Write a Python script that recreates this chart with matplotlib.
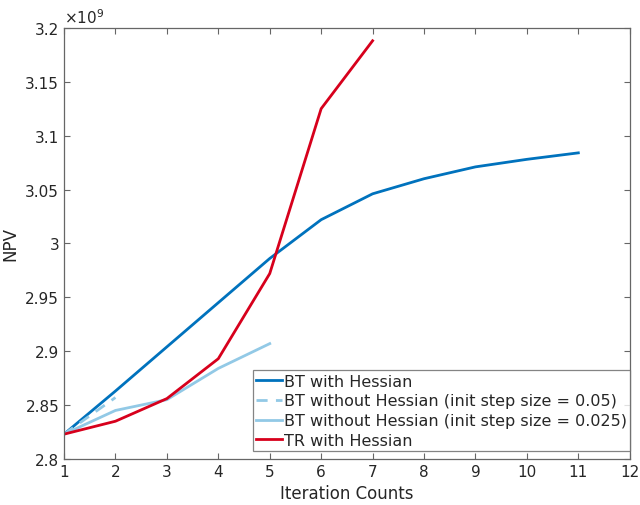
import numpy as np
import matplotlib.pyplot as plt

# data (NPV, in units of 1e9)
it_bt = [1, 2, 3, 4, 5, 6, 7, 8, 9, 10, 11]
npv_bt = [2.823, 2.863, 2.904, 2.945, 2.986, 3.022, 3.046, 3.060, 3.071, 3.078, 3.084]

it_bt05 = [1, 2]
npv_bt05 = [2.823, 2.857]

it_bt025 = [1, 2, 3, 4, 5]
npv_bt025 = [2.823, 2.845, 2.855, 2.884, 2.907]

it_tr = [1, 2, 3, 4, 5, 6, 7]
npv_tr = [2.823, 2.835, 2.856, 2.893, 2.972, 3.125, 3.188]

labels = ['BT with Hessian',
          'BT without Hessian (init step size = 0.05)',
          'BT without Hessian (init step size = 0.025)',
          'TR with Hessian']

fig = plt.figure(figsize=(6.4, 5.06), dpi=100)
ax = fig.add_axes([0.1, 0.091, 0.884, 0.852])

c_blue = '#0072BD'
c_light = '#92C9E6'
c_red = '#D7001C'
ax.plot(it_bt, npv_bt, color=c_blue, lw=2, label=labels[0])
ax.plot(it_bt05, npv_bt05, color=c_light, lw=2, ls=(0, (4, 3)), label=labels[1])
ax.plot(it_bt025, npv_bt025, color=c_light, lw=2, label=labels[2])
ax.plot(it_tr, npv_tr, color=c_red, lw=2, label=labels[3])

ax.set_xlim(1, 12)
ax.set_ylim(2.8, 3.2)
ax.set_xticks(np.arange(1, 13))
ax.set_yticks([2.8, 2.85, 2.9, 2.95, 3.0, 3.05, 3.1, 3.15, 3.2])
ax.set_yticklabels(['2.8', '2.85', '2.9', '2.95', '3', '3.05', '3.1', '3.15', '3.2'])
ax.tick_params(direction='in', top=True, right=True, labelsize=11,
               color='#666666', labelcolor='#262626', length=4)
for s in ax.spines.values():
    s.set_color('#666666')
    s.set_linewidth(0.9)

ax.set_xlabel('Iteration Counts', fontsize=12, color='#262626')
ax.set_ylabel('NPV', fontsize=12, color='#262626')
ax.text(0.0, 1.005, r'$\times10^9$', transform=ax.transAxes, fontsize=11,
        color='#262626', va='bottom', ha='left')

leg = ax.legend(loc='lower right', bbox_to_anchor=(1.0, 0.018), handlelength=1.6,
                handletextpad=0.1, borderpad=0.2, labelspacing=0.3, fancybox=False,
                borderaxespad=0.0, prop={'size': 11.5})
leg.get_frame().set_edgecolor('#666666')
leg.get_frame().set_linewidth(0.9)
for t in leg.get_texts():
    t.set_color('#262626')

fig.savefig('out.png', dpi=100)
